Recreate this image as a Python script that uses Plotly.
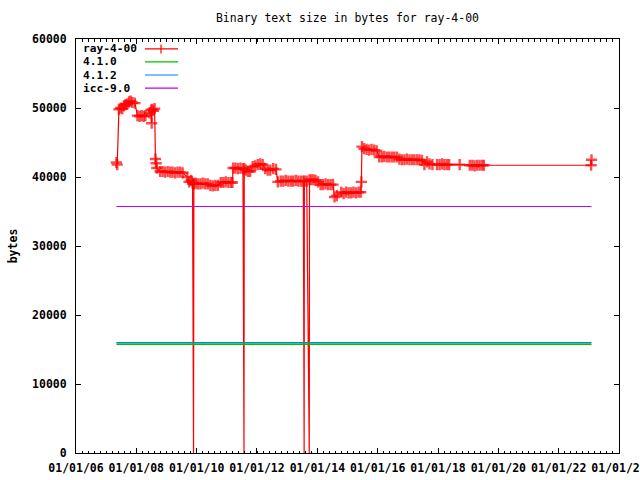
import plotly.graph_objects as go

ray_dates = [
    "2007-05-05", "2007-05-15", "2007-06-05", "2007-06-25", "2007-07-15", "2007-08-05",
    "2007-08-25", "2007-09-15", "2007-10-05", "2007-10-25", "2007-11-15", "2007-12-15",
    "2008-01-15", "2008-02-10", "2008-03-05", "2008-03-30", "2008-04-20", "2008-06-10",
    "2008-06-28", "2008-07-05", "2008-07-12", "2008-07-28", "2008-08-10", "2008-08-20",
    "2008-08-28", "2008-09-05", "2008-10-15", "2008-11-15", "2008-12-15", "2009-01-15",
    "2009-02-15", "2009-03-15", "2009-04-15", "2009-05-15", "2009-06-15", "2009-07-15",
    "2009-09-10", "2009-10-01", "2009-10-25", "2009-11-12", "2009-11-18", "2009-11-21",
    "2009-11-24", "2009-11-28", "2009-12-20", "2010-01-15", "2010-02-15", "2010-03-15",
    "2010-04-15", "2010-05-15", "2010-06-15", "2010-07-15", "2010-08-15", "2010-09-15",
    "2010-10-20", "2010-11-20", "2010-12-20", "2011-01-20", "2011-02-20", "2011-03-10",
    "2011-03-18", "2011-04-15", "2011-05-15", "2011-06-15", "2011-07-15", "2011-07-28",
    "2011-07-31", "2011-08-20", "2011-09-15", "2011-10-10", "2011-11-10", "2011-12-10",
    "2012-01-10", "2012-02-10", "2012-03-10", "2012-04-10", "2012-05-10", "2012-06-10",
    "2012-07-15", "2012-08-18", "2012-09-10", "2012-10-15", "2012-11-15", "2012-12-15",
    "2013-01-15", "2013-02-15", "2013-03-15", "2013-04-15", "2013-05-15", "2013-06-15",
    "2013-07-15", "2013-07-25", "2013-07-28", "2013-08-25", "2013-09-25", "2013-09-28",
    "2013-10-20", "2013-11-15", "2013-12-10", "2014-01-10", "2014-02-10", "2014-03-10",
    "2014-04-10", "2014-05-10", "2014-06-10", "2014-07-10", "2014-07-28", "2014-08-25",
    "2014-10-18", "2014-11-15", "2014-12-15", "2015-01-15", "2015-02-15", "2015-03-15",
    "2015-04-15", "2015-05-15", "2015-06-10", "2015-06-18", "2015-06-25", "2015-07-20",
    "2015-08-20", "2015-09-20", "2015-10-20", "2015-11-20", "2015-12-20", "2016-01-20",
    "2016-02-20", "2016-03-20", "2016-04-20", "2016-05-20", "2016-06-20", "2016-07-20",
    "2016-08-20", "2016-09-20", "2016-10-20", "2016-11-20", "2016-12-20", "2017-01-20",
    "2017-02-20", "2017-03-20", "2017-04-20", "2017-05-20", "2017-06-20", "2017-07-20",
    "2017-08-20", "2017-09-20", "2017-10-25", "2017-12-20", "2018-01-20", "2018-02-20",
    "2018-03-20", "2018-04-20", "2018-05-15", "2018-09-20", "2019-01-20", "2019-02-20",
    "2019-03-20", "2019-04-20", "2019-05-20", "2019-06-20", "2019-07-10", "2023-01-28",
    "2023-02-02",
]
ray_bytes = [
    42100, 41800, 49800, 50000, 49900, 50300,
    50500, 50600, 50900, 51000, 50800, 50700,
    48900, 48800, 48900, 48800, 48900, 49300,
    49700, 47800, 49800, 49600, 49900, 42600,
    42000, 41300, 40800, 40800, 40700, 40800,
    40700, 40700, 40600, 40700, 40700, 40600,
    40000, 39300, 39500, 39100, 19700, 39000,
    0, 39000, 39100, 39000, 39000, 39100,
    39000, 39000, 38800, 38700, 38800, 38800,
    39200, 39200, 39300, 39200, 39200, 39200,
    41300, 41300, 41200, 41300, 41200, 0,
    41200, 41000, 40800, 40800, 41500, 41600,
    41800, 41900, 41800, 41200, 41000, 41000,
    41200, 41100, 39300, 39400, 39400, 39500,
    39400, 39400, 39400, 39500, 39400, 39400,
    39400, 0, 39400, 39400, 0, 39600,
    39600, 39600, 39500, 39300, 38900, 38900,
    39000, 38900, 38900, 38900, 37100, 37300,
    37800, 37600, 37800, 37700, 37700, 37800,
    37700, 37800, 37800, 39300, 44400, 44100,
    44000, 43900, 44000, 43900, 43800, 42900,
    42900, 43000, 42900, 42900, 42900, 42900,
    42900, 42600, 42500, 42500, 42600, 42500,
    42500, 42500, 42500, 42500, 42400, 41800,
    42200, 41900, 41800, 41800, 41800, 41900,
    41800, 41800, 41800, 41800, 41700, 41700,
    41600, 41700, 41700, 41700, 41700, 41700,
    42500,
]

ref_dates = ["2007-05-05", "2023-02-02"]
gcc410_bytes = [15780, 15780]
gcc412_bytes = [16015, 16015]
icc90_bytes = [35725, 35725]

series_names = ["ray-4-00", "4.1.0", "4.1.2", "icc-9.0"]
series_colors = ["#ff0000", "#00c000", "#0080ff", "#c000ff"]

FONT = "DejaVu Sans Mono"
fig = go.Figure()

# points of the failed-build dips carry no visible marker in the original
marker_sizes = [0 if v < 30000 else 8 for v in ray_bytes]

fig.add_trace(go.Scatter(
    x=ray_dates, y=ray_bytes, mode="lines+markers", name=series_names[0],
    line=dict(color=series_colors[0], width=1.2),
    marker=dict(symbol="cross-thin", size=marker_sizes,
                line=dict(color=series_colors[0], width=2.4)),
    showlegend=False,
))
# reference lines (4.1.2 first so that 4.1.0 lies on top of it, as in the original)
for name, col, vals, w in [(series_names[2], series_colors[2], gcc412_bytes, 1.0),
                           (series_names[1], series_colors[1], gcc410_bytes, 1.6),
                           (series_names[3], series_colors[3], icc90_bytes, 1.0)]:
    fig.add_trace(go.Scatter(x=ref_dates, y=vals, mode="lines", name=name,
                             line=dict(color=col, width=w), showlegend=False))

# gnuplot-style key: label on the left, sample on the right
L, R, T, B = 76, 619, 39, 453
def px(x):
    return (x - L) / (R - L)
def py(y):
    return (B - y) / (B - T)

rows = [48.9, 61.95, 75.0, 88.05]
shapes = []
annotations = []
for name, col, yy in zip(series_names, series_colors, rows):
    annotations.append(dict(x=px(81), y=py(yy), xref="paper", yref="paper", text=name,
                            showarrow=False, xanchor="left", yanchor="middle",
                            font=dict(family=FONT, size=11.2, color="black", weight="bold")))
    shapes.append(dict(type="line", xref="paper", yref="paper", x0=px(145), x1=px(178),
                       y0=py(yy), y1=py(yy), line=dict(color=col, width=1.2)))
shapes.append(dict(type="line", xref="paper", yref="paper", x0=px(161), x1=px(161),
                   y0=py(44.5), y1=py(53.5), line=dict(color=series_colors[0], width=1.2)))

fig.update_layout(
    template="none",
    width=640, height=480,
    margin=dict(l=L, r=640 - R, t=T, b=480 - B, autoexpand=False),
    paper_bgcolor="white", plot_bgcolor="white",
    font=dict(family=FONT, size=11.5, color="black", weight="bold"),
    title=dict(text="Binary text size in bytes for ray-4-00", x=(L + R) / 2 / 640,
               xanchor="center", y=1 - 18 / 480, yanchor="middle", yref="container",
               font=dict(family=FONT, size=11.5, color="black", weight="normal")),
    shapes=shapes, annotations=annotations,
    showlegend=False,
)
fig.update_xaxes(
    type="date", range=["2006-01-01", "2024-01-01"], automargin=False,
    tick0="2006-01-01", dtick="M24", tickformat="%m/%d/%y",
    ticks="inside", ticklen=5, tickcolor="black", ticklabelstandoff=4,
    ticklabeloverflow="allow",
    showline=True, linecolor="black", linewidth=1, mirror="ticks",
    showgrid=False, zeroline=False,
    minor=dict(ticks="inside", ticklen=2.5, tickcolor="black",
               tick0="2006-01-01", dtick=6311001600, showgrid=False),
)
fig.update_yaxes(
    range=[0, 60000], dtick=10000, tick0=0, tickformat="d", automargin=False,
    ticks="inside", ticklen=5, tickcolor="black", ticklabelstandoff=6,
    showline=True, linecolor="black", linewidth=1, mirror="ticks",
    showgrid=False, zeroline=False,
    title=dict(text="bytes", standoff=12, font=dict(family=FONT, size=11.5, weight="bold")),
)

fig.write_html(
    "out.html",
    config={"displayModeBar": False},
    post_script="document.body.style.margin='0';document.body.style.overflow='hidden';",
)
